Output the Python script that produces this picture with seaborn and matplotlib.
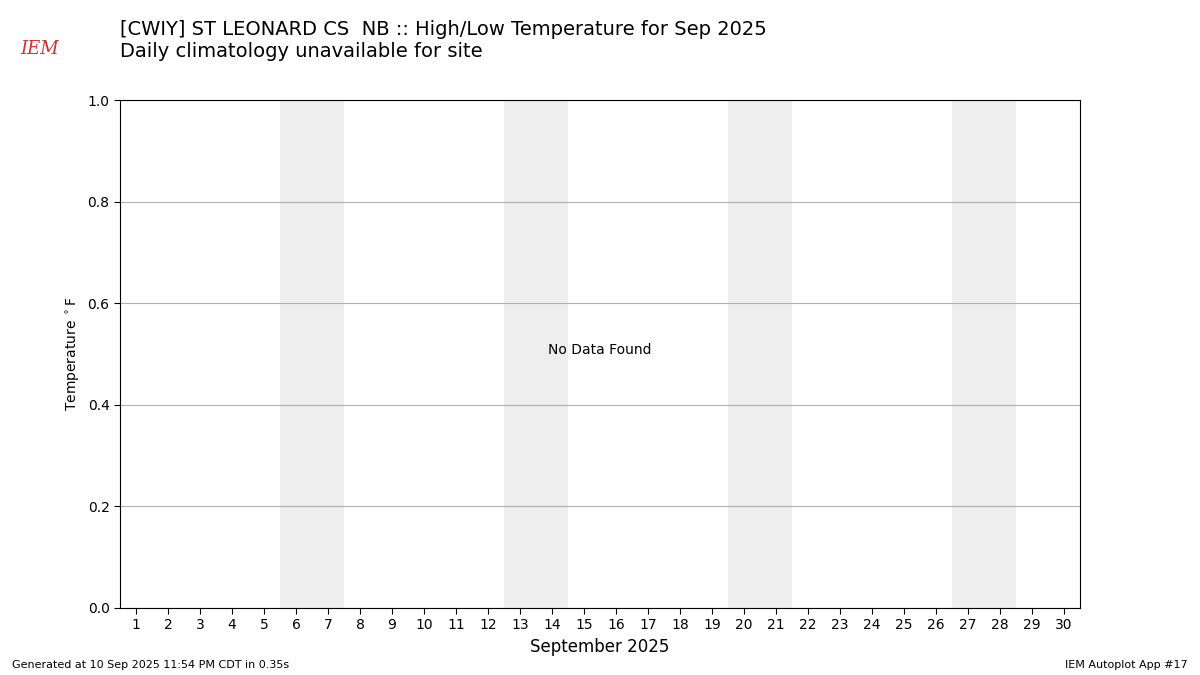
import matplotlib
matplotlib.use("Agg")
import matplotlib.pyplot as plt
import seaborn as sns

# chart content
days = list(range(1, 31))
weekend_starts = [6, 13, 20, 27]  # Sat/Sun pairs shaded
yticks = [0.0, 0.2, 0.4, 0.6, 0.8, 1.0]
title = "[CWIY] ST LEONARD CS  NB :: High/Low Temperature for Sep 2025\nDaily climatology unavailable for site"

sns.set_style("white", {"text.color": "black", "axes.labelcolor": "black",
                        "xtick.color": "black", "ytick.color": "black"})
plt.rcParams['font.family'] = ['DejaVu Sans']

fig = plt.figure(figsize=(12, 6.75), dpi=100)
ax = fig.add_axes([0.1, 0.0993, 0.8, 0.752])

for d in weekend_starts:
    ax.axvspan(d - 0.5, d + 1.5, color="#eeeeee", zorder=0, lw=0)

ax.set_xlim(0.5, 30.5)
ax.set_ylim(0, 1)
ax.set_xticks(days)
ax.set_xticklabels([str(d) for d in days])
ax.set_yticks(yticks)
ax.set_yticklabels([f"{v:.1f}" for v in yticks])
ax.grid(axis="y", color="#b0b0b0", lw=0.8)
ax.tick_params(axis="both", length=4, direction="out", bottom=True, left=True,
               labelsize=10, colors="black")
for s in ax.spines.values():
    s.set_color("black")
    s.set_linewidth(0.8)
ax.set_xlabel("September 2025", fontsize=12, color="black")
ax.set_ylabel("Temperature $^\\circ$F", fontsize=10, color="black")
ax.text(0.5, 0.508, "No Data Found", transform=ax.transAxes, ha="center", va="center",
        fontsize=10, color="black")

fig.text(0.1, 0.91, title, fontsize=14, va="bottom", ha="left", color="black")
fig.text(0.01, 0.01, "Generated at 10 Sep 2025 11:54 PM CDT in 0.35s", fontsize=8, color="black")
fig.text(0.99, 0.01, "IEM Autoplot App #17", fontsize=8, ha="right", color="black")
fig.text(0.017, 0.92, "IEM", fontsize=13, color="#d03030", style="italic", family="DejaVu Serif")

fig.savefig("out.png", dpi=100)
